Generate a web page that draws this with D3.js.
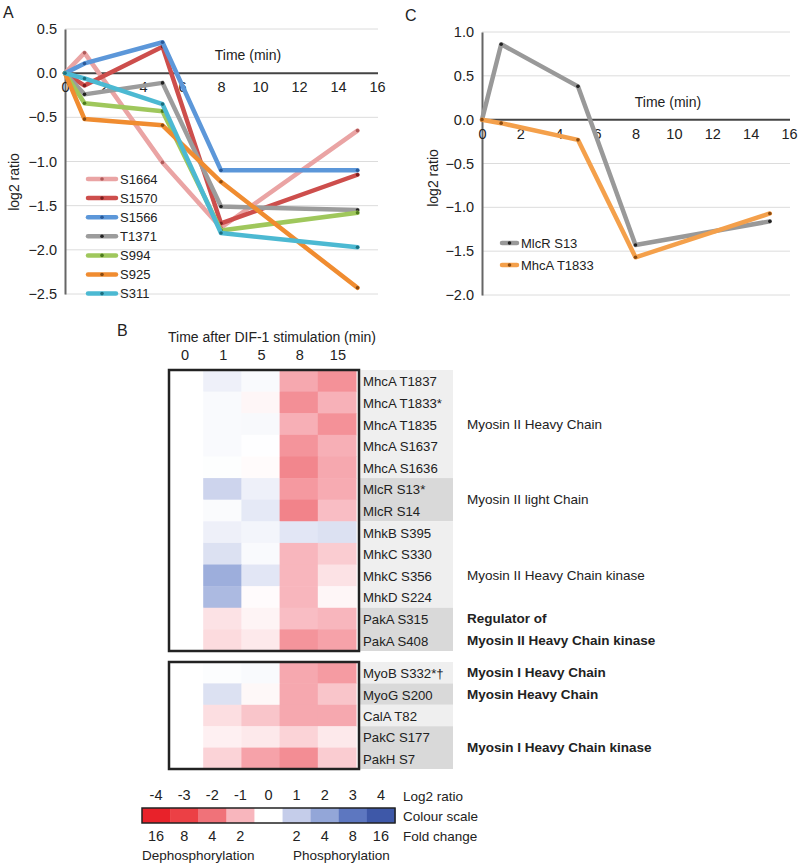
<!DOCTYPE html>
<html><head><meta charset="utf-8">
<script src="https://cdn.jsdelivr.net/npm/d3@7"></script>
<style>body{margin:0;background:#fff}svg{display:block;font-family:"Liberation Sans",Arial,sans-serif}</style>
</head><body><svg id="c" width="800" height="863"></svg>
<script>
// ---------- DATA ----------
const times = [0, 1, 5, 8, 15];
const xTicks = [0, 2, 4, 6, 8, 10, 12, 14, 16];
const seriesA = ["S1664", "S1570", "S1566", "T1371", "S994", "S925", "S311"];
const valuesA = [
  [0, 0.23, -1.01, -1.75, -0.65],
  [0, -0.14, 0.30, -1.70, -1.15],
  [0, 0.11, 0.35, -1.10, -1.10],
  [0, -0.24, -0.11, -1.51, -1.55],
  [0, -0.34, -0.43, -1.78, -1.58],
  [0, -0.52, -0.59, -1.23, -2.43],
  [0, -0.06, -0.35, -1.81, -1.97]
];
const colorsA = ["#eaa4a4", "#cd4e4c", "#5c97d9", "#9c9c9c", "#9fc75c", "#f08c30", "#4cb9d2"];
const dotsA = ["#b05a5a", "#7a2020", "#2a5a99", "#222222", "#4d7a1e", "#8a4a10", "#1c6f80"];
const yTicksA = [0.5, 0.0, -0.5, -1.0, -1.5, -2.0, -2.5];

const seriesC = ["MlcR S13", "MhcA T1833"];
const valuesC = [
  [0, 0.86, 0.38, -1.43, -1.16],
  [0, -0.04, -0.23, -1.57, -1.07]
];
const colorsC = ["#999999", "#f4a04b"];
const dotsC = ["#222222", "#8a4a10"];
const yTicksC = [1.0, 0.5, 0.0, -0.5, -1.0, -1.5, -2.0];

const heatCols = ["0", "1", "5", "8", "15"];
const rows1 = ["MhcA T1837", "MhcA T1833*", "MhcA T1835", "MhcA S1637", "MhcA S1636", "MlcR S13*", "MlcR S14",
  "MhkB S395", "MhkC S330", "MhkC S356", "MhkD S224", "PakA S315", "PakA S408"];
const heat1 = [
  [0, 0.30, 0.10, -1.20, -1.55],
  [0, 0.10, -0.12, -1.57, -1.07],
  [0, 0.10, 0.12, -1.10, -1.55],
  [0, 0.10, 0.02, -1.50, -1.10],
  [0, 0.03, -0.06, -1.70, -1.20],
  [0, 0.86, 0.30, -1.43, -1.16],
  [0, 0.08, 0.45, -1.75, -0.90],
  [0, 0.30, 0.20, 0.50, 0.60],
  [0, 0.60, 0.10, -1.00, -0.70],
  [0, 1.80, 0.50, -1.00, -0.40],
  [0, 1.50, -0.05, -1.00, -0.12],
  [0, -0.40, -0.15, -0.90, -1.00],
  [0, -0.50, -0.30, -1.50, -1.30]
];
const rows2 = ["MyoB S332*†", "MyoG S200", "CalA T82", "PakC S177", "PakH S7"];
const heat2 = [
  [0, 0.05, 0.10, -1.20, -1.40],
  [0, 0.60, -0.10, -1.20, -0.80],
  [0, -0.45, -0.80, -1.20, -1.20],
  [0, -0.20, -0.30, -0.60, -0.30],
  [0, -0.60, -1.30, -1.60, -0.70]
];
const bands1 = [[0, 4, "#efefef"], [5, 6, "#d9d9d9"], [7, 10, "#efefef"], [11, 12, "#d9d9d9"]];
const bands2 = [[0, 0, "#efefef"], [1, 1, "#d9d9d9"], [2, 2, "#efefef"], [3, 4, "#d9d9d9"]];
const groups1 = [
  {t: "Myosin II Heavy Chain", r: 2, b: false},
  {t: "Myosin II light Chain", r: 5.5, b: false},
  {t: "Myosin II Heavy Chain kinase", r: 9, b: false},
  {t: "Regulator of", r: 11, b: true},
  {t: "Myosin II Heavy Chain kinase", r: 12, b: true}
];
const groups2 = [
  {t: "Myosin I Heavy Chain", r: 0, b: true},
  {t: "Myosin Heavy Chain", r: 1, b: true},
  {t: "Myosin I Heavy Chain kinase", r: 3.5, b: true}
];
const scaleVals = [-4, -3, -2, -1, 0, 1, 2, 3, 4];
const scaleColors = ["#e8222a", "#ec4045", "#f07279", "#f8b6bd", "#ffffff", "#c5cdea", "#93a6d8", "#5d77c0", "#3e58a8"];
const foldLabels = ["16", "8", "4", "2", "", "2", "4", "8", "16"];

// ---------- DRAW ----------
const svg = d3.select("#c");
const F = "Liberation Sans, Arial, sans-serif";

function linePanel(o) {
  const g = svg.append("g");
  const x = d3.scaleLinear().domain([0, 16]).range([o.x0, o.x1]);
  const y = d3.scaleLinear().domain([o.yMax, o.yMin]).range([o.y0, o.y1]);
  g.selectAll(".grid").data(o.yTicks.filter(d => d !== 0)).join("line")
    .attr("x1", o.x0).attr("x2", o.gx1).attr("y1", d => y(d)).attr("y2", d => y(d))
    .attr("stroke", "#dcdcdc").attr("stroke-width", 1);
  const ya = d3.axisLeft(y).tickValues(o.yTicks).tickFormat(d3.format(".1f")).tickSize(0).tickPadding(8);
  g.append("g").attr("transform", `translate(${o.x0},0)`).call(ya)
    .call(s => s.select(".domain").attr("stroke", "#666").attr("stroke-width", 2))
    .call(s => s.selectAll("text").attr("font-size", 14.5).attr("font-family", F).attr("fill", "#222"));
  const xa = d3.axisBottom(x).tickValues(xTicks).tickSize(0).tickPadding(9);
  g.append("g").attr("transform", `translate(0,${y(0)})`).call(xa)
    .call(s => s.select(".domain").attr("stroke", "#444").attr("stroke-width", 2).attr("d", `M${o.x0},0H${o.gx1}`))
    .call(s => s.selectAll("text").attr("font-size", 14.5).attr("font-family", F).attr("fill", "#222"));
  g.append("text").attr("x", o.tx).attr("y", y(0) - 13).attr("text-anchor", "middle")
    .attr("font-size", 14).attr("font-family", F).attr("fill", "#222").text("Time (min)");
  g.append("text").attr("transform", `translate(${o.lx},${o.ly}) rotate(-90)`).attr("text-anchor", "middle")
    .attr("dominant-baseline", "central").attr("font-size", 14).attr("font-family", F).attr("fill", "#222").text("log2 ratio");
  const line = d3.line().x((d, i) => x(times[i])).y(d => y(d));
  o.values.forEach((vals, k) => {
    g.append("path").attr("d", line(vals)).attr("fill", "none").attr("stroke", o.colors[k])
      .attr("stroke-width", 4.5).attr("stroke-linejoin", "round").attr("stroke-linecap", "round");
    g.selectAll(null).data(vals).join("circle").attr("cx", (d, i) => x(times[i])).attr("cy", d => y(d))
      .attr("r", 1.8).attr("fill", o.dots[k]);
  });
  o.names.forEach((n, k) => {
    const ly = o.legY + k * o.legDy;
    g.append("line").attr("x1", o.legX).attr("x2", o.legX + o.legW).attr("y1", ly).attr("y2", ly)
      .attr("stroke", o.colors[k]).attr("stroke-width", 4.5).attr("stroke-linecap", "round");
    g.append("circle").attr("cx", o.legX + o.legW / 2).attr("cy", ly).attr("r", 1.8).attr("fill", o.dots[k]);
    g.append("text").attr("x", o.legX + o.legW + 4).attr("y", ly).attr("dominant-baseline", "central")
      .attr("font-size", 13).attr("font-family", F).attr("fill", "#222").text(n);
  });
}

linePanel({x0: 65, x1: 377, gx1: 378, y0: 29, y1: 294, yMax: 0.5, yMin: -2.5, yTicks: yTicksA,
  values: valuesA, colors: colorsA, dots: dotsA, names: seriesA, tx: 248, lx: 14, ly: 182,
  legX: 88, legW: 28, legY: 179, legDy: 19.1});
linePanel({x0: 482, x1: 789, gx1: 790, y0: 32, y1: 295, yMax: 1.0, yMin: -2.0, yTicks: yTicksC,
  values: valuesC, colors: colorsC, dots: dotsC, names: seriesC, tx: 668, lx: 433, ly: 178,
  legX: 502, legW: 15, legY: 243, legDy: 22});

function letter(t, x, y) {
  svg.append("text").attr("x", x).attr("y", y).attr("dominant-baseline", "central")
    .attr("font-size", 16).attr("font-family", F).attr("fill", "#222").text(t);
}
letter("A", 3, 12); letter("C", 405, 15); letter("B", 117, 330);

// ---------- HEATMAP ----------
const color = d3.scaleLinear().domain(scaleVals).range(scaleColors).clamp(true);
const hx = d3.scaleBand().domain(heatCols).range([165, 356]);
svg.append("text").attr("x", 272).attr("y", 337).attr("text-anchor", "middle").attr("dominant-baseline", "central")
  .attr("font-size", 14).attr("font-family", F).attr("fill", "#222").text("Time after DIF-1 stimulation (min)");
svg.selectAll(".cl").data(heatCols).join("text").attr("x", d => hx(d) + hx.bandwidth() / 2 + 1).attr("y", 355)
  .attr("text-anchor", "middle").attr("dominant-baseline", "central").attr("font-size", 14.5)
  .attr("font-family", F).attr("fill", "#222").text(d => d);

function heatBlock(rows, vals, bands, groups, yTop, yBot) {
  const hy = d3.scaleBand().domain(rows).range([yTop, yBot]);
  const g = svg.append("g");
  bands.forEach(([a, b, c]) => {
    g.append("rect").attr("x", 360).attr("y", hy(rows[a])).attr("width", 93)
      .attr("height", hy(rows[b]) + hy.bandwidth() - hy(rows[a])).attr("fill", c);
  });
  rows.forEach((r, i) => {
    g.selectAll(null).data(vals[i]).join("rect").attr("x", (d, j) => hx(heatCols[j])).attr("y", hy(r))
      .attr("width", hx.bandwidth() + 0.5).attr("height", hy.bandwidth() + 0.5).attr("fill", d => color(d));
    g.append("text").attr("x", 363).attr("y", hy(r) + hy.bandwidth() / 2 + 1).attr("dominant-baseline", "central")
      .attr("font-size", 13.2).attr("font-family", F).attr("fill", "#222").text(r);
  });
  g.append("rect").attr("x", 169).attr("y", yTop).attr("width", 190).attr("height", yBot - yTop)
    .attr("fill", "none").attr("stroke", "#222").attr("stroke-width", 2.5);
  groups.forEach(gr => {
    g.append("text").attr("x", 467).attr("y", hy(rows[0]) + (gr.r + 0.5) * hy.step())
      .attr("dominant-baseline", "central").attr("font-size", 13.5).attr("font-family", F)
      .attr("font-weight", gr.b ? "bold" : "normal").attr("fill", "#222").text(gr.t);
  });
}
heatBlock(rows1, heat1, bands1, groups1, 370, 651);
heatBlock(rows2, heat2, bands2, groups2, 662, 769);

// ---------- COLOUR SCALE LEGEND ----------
const lx = d3.scaleBand().domain(scaleVals.map(String)).range([142, 395]);
const lg = svg.append("g");
lg.selectAll("rect").data(scaleVals).join("rect").attr("x", d => lx(String(d))).attr("y", 808)
  .attr("width", lx.bandwidth() + 0.5).attr("height", 15).attr("fill", (d, i) => scaleColors[i]);
lg.append("rect").attr("x", 142).attr("y", 808).attr("width", 253).attr("height", 15)
  .attr("fill", "none").attr("stroke", "#222").attr("stroke-width", 1.5);
lg.selectAll(".t").data(scaleVals).join("text").attr("x", d => lx(String(d)) + lx.bandwidth() / 2).attr("y", 795)
  .attr("text-anchor", "middle").attr("dominant-baseline", "central").attr("font-size", 14.5)
  .attr("font-family", F).attr("fill", "#222").text(d => d);
lg.selectAll(".f").data(foldLabels).join("text").attr("x", (d, i) => lx(String(scaleVals[i])) + lx.bandwidth() / 2)
  .attr("y", 836).attr("text-anchor", "middle").attr("dominant-baseline", "central").attr("font-size", 14.5)
  .attr("font-family", F).attr("fill", "#222").text(d => d);
[["Log2 ratio", 796], ["Colour scale", 816], ["Fold change", 836]].forEach(([t, yy]) => {
  lg.append("text").attr("x", 403).attr("y", yy).attr("dominant-baseline", "central").attr("font-size", 13.5)
    .attr("font-family", F).attr("fill", "#222").text(t);
});
lg.append("text").attr("x", 142).attr("y", 855).attr("dominant-baseline", "central").attr("font-size", 13.5)
  .attr("font-family", F).attr("fill", "#222").text("Dephosphorylation");
lg.append("text").attr("x", 293).attr("y", 855).attr("dominant-baseline", "central").attr("font-size", 13.5)
  .attr("font-family", F).attr("fill", "#222").text("Phosphorylation");
</script></body></html>
